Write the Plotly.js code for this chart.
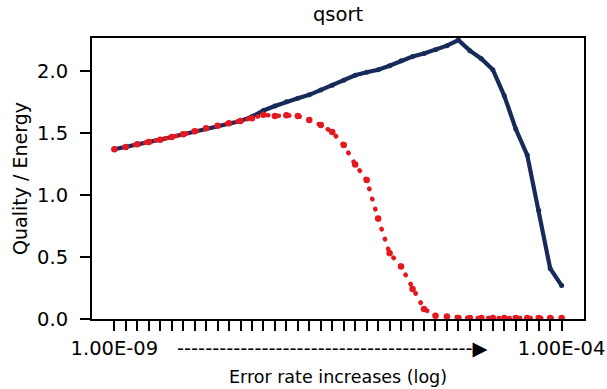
<!DOCTYPE html>
<html><head><meta charset="utf-8">
<script src="https://cdn.plot.ly/plotly-3.0.1.min.js"></script>
<style>html,body{margin:0;padding:0;background:#fff}#chart{width:607px;height:389px}
.js-line{stroke-linecap:round}</style>
</head><body><div id="chart"></div><script>
const steps = [0,1,2,3,4,5,6,7,8,9,10,11,12,13,14,15,16,17,18,19,20,21,22,23,24,25,26,27,28,29,30,31,32,33,34,35,36,37,38,39];
const blueSeries = [1.371,1.389,1.411,1.430,1.449,1.470,1.492,1.517,1.541,1.562,1.582,1.600,1.635,1.685,1.720,1.754,1.784,1.811,1.850,1.888,1.929,1.969,1.994,2.014,2.046,2.087,2.120,2.144,2.176,2.208,2.253,2.168,2.103,2.014,1.803,1.535,1.324,0.878,0.408,0.270];
const redSeries = [1.371,1.389,1.411,1.430,1.449,1.470,1.492,1.517,1.541,1.562,1.582,1.600,1.622,1.650,1.640,1.645,1.640,1.607,1.568,1.510,1.406,1.249,1.122,0.811,0.532,0.424,0.243,0.081,0.027,0.020,0.008,0.008,0.008,0.008,0.008,0.008,0.008,0.008,0.008,0.008];
const firstLabel = "1.00E-09";
const arrowLabel = "------------------------------------------\u25B6";
const lastLabel = "1.00E-04";
const arrowIndex = 19;
const yTicks = [0, 0.5, 1.0, 1.5, 2.0];

const tickText = steps.map((s, i) => i === 0 ? firstLabel : (i === arrowIndex ? arrowLabel : (i === steps.length - 1 ? lastLabel : "")));
const font = "DejaVu Sans";

const traces = [
  {x: steps, y: blueSeries, mode: "lines+markers", line: {color: "#172a5a", width: 4.2}, marker: {color: "#172a5a", size: 5}, hoverinfo: "skip"},
  {x: steps, y: redSeries, mode: "lines+markers", line: {color: "#e3191f", width: 4.6, dash: "0.5px,10px"}, marker: {color: "#e3191f", size: 6.5}, hoverinfo: "skip"}
];

const layout = {
  width: 607, height: 389,
  margin: {l: 92, r: 23, t: 38, b: 70},
  paper_bgcolor: "#fff", plot_bgcolor: "#fff",
  showlegend: false,
  font: {family: font, color: "#000", size: 19},
  title: {text: "qsort", font: {family: font, size: 19.5, color: "#000"}, x: 0.5, xref: "paper", xanchor: "center", y: 0.98, yref: "container", yanchor: "top"},
  xaxis: {
    range: [-1.95, 40.95], tickmode: "array", tickvals: steps, ticktext: tickText, tickangle: 0,
    ticks: "outside", ticklen: 10, tickwidth: 2, tickcolor: "#000", ticklabelstandoff: 1,
    showline: true, linecolor: "#000", linewidth: 2, mirror: true, showgrid: false, zeroline: false,
    tickfont: {family: font, size: 19.5, color: "#000"},
    title: {text: "Error rate increases (log)", font: {family: font, size: 17.5, color: "#000"}, standoff: 11}
  },
  yaxis: {
    range: [0, 2.27], tickmode: "array", tickvals: yTicks, tickformat: ".1f",
    ticks: "outside", ticklen: 10, tickwidth: 2, tickcolor: "#000", ticklabelstandoff: 8,
    showline: true, linecolor: "#000", linewidth: 2, mirror: true, showgrid: false, zeroline: false,
    tickfont: {family: font, size: 19.5, color: "#000"},
    title: {text: "Quality / Energy", font: {family: font, size: 19, color: "#000"}, standoff: 4}
  }
};

Plotly.newPlot("chart", traces, layout, {staticPlot: true, displayModeBar: false});
</script></body></html>
